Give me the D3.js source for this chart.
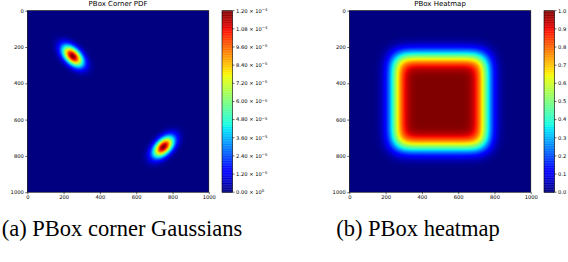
<!DOCTYPE html>
<meta charset="utf-8">
<style>
body {
  margin: 0;
  background: #fff;
}
svg {
  display: block;
}
.tick text, .cb text {
  font-family: "DejaVu Sans", sans-serif;
  font-size: 5.2px;
  fill: #000;
}
.title {
  font-family: "DejaVu Sans", sans-serif;
  font-size: 7px;
  text-anchor: middle;
}
.caption {
  font-family: "Liberation Serif", "Times New Roman", serif;
  font-size: 22.5px;
  text-anchor: middle;
}
</style>
<body>
<script src="https://d3js.org/d3.v7.min.js"></script>
<script>

var width = 568,
    height = 262;

// data
var axisTicks = [0, 200, 400, 600, 800, 1000];
var gaussMeans = [[250, 250], [750, 750]];
var gaussCov = [[1533, 1533, 771], [1533, 1533, -771]];  // varX, varY, covXY
var boxEdges = [250, 750];
var boxSigma = 45;
var cbTicksA = [0, 1.2e-5, 2.4e-5, 3.6e-5, 4.8e-5, 6.0e-5, 7.2e-5, 8.4e-5, 9.6e-5, 1.08e-4, 1.2e-4];
var cbTicksB = [0, 0.1, 0.2, 0.3, 0.4, 0.5, 0.6, 0.7, 0.8, 0.9, 1.0];
var titles = ["PBox Corner PDF", "PBox Heatmap"];
var captions = ["(a) PBox corner Gaussians", "(b) PBox heatmap"];

// matplotlib jet
var jetR = d3.scaleLinear().domain([0, .35, .66, .89, 1]).range([0, 0, 1, 1, .5]).clamp(true);
var jetG = d3.scaleLinear().domain([0, .125, .375, .64, .91, 1]).range([0, 0, 1, 1, 0, 0]).clamp(true);
var jetB = d3.scaleLinear().domain([0, .11, .34, .65, 1]).range([.5, 1, 1, 0, 0]).clamp(true);
function jet(t) {
  t = Math.floor(Math.max(0, Math.min(1, t)) * 255.999) / 255;
  return [jetR(t) * 255, jetG(t) * 255, jetB(t) * 255];
}

function erf(x) {
  var s = x < 0 ? -1 : 1; x = Math.abs(x);
  var t = 1 / (1 + 0.3275911 * x);
  var y = 1 - (((((1.061405429 * t - 1.453152027) * t) + 1.421413741) * t - 0.284496736) * t + 0.254829592) * t * Math.exp(-x * x);
  return s * y;
}
function Phi(z) { return 0.5 * (1 + erf(z / Math.SQRT2)); }

function cornerPdf(x, y) {
  var v = 0;
  gaussMeans.forEach(function(m, k) {
    var c = gaussCov[k], det = c[0] * c[1] - c[2] * c[2];
    var dx = x - m[0], dy = y - m[1];
    var q = (c[1] * dx * dx - 2 * c[2] * dx * dy + c[0] * dy * dy) / det;
    v = Math.max(v, Math.exp(-q / 2) / (2 * Math.PI * Math.sqrt(det)));
  });
  return v;
}
function boxProb(x, y) {
  var px = Phi((x - boxEdges[0]) / boxSigma) - Phi((x - boxEdges[1]) / boxSigma);
  var py = Phi((y - boxEdges[0]) / boxSigma) - Phi((y - boxEdges[1]) / boxSigma);
  return px * py;
}

var svg = d3.select("body").append("svg")
    .attr("width", width)
    .attr("height", height);

var panels = [
  {x0: 27.3, cb: 222, fn: cornerPdf, vmax: 1.2e-4, ticks: cbTicksA, sci: true},
  {x0: 349.3, cb: 544, fn: boxProb, vmax: 1.0, ticks: cbTicksB, sci: false}
];
var y0 = 10.7, size = 181.5;

panels.forEach(function(p, k) {
  var x = d3.scaleLinear().domain([0, 1000]).range([p.x0, p.x0 + size]);
  var y = d3.scaleLinear().domain([0, 1000]).range([y0, y0 + size]);
  var color = d3.scaleLinear().domain([0, p.vmax]).range([0, 1]).clamp(true);

  // heatmap raster
  var n = Math.round(size) * 2;
  var canvas = document.createElement("canvas");
  canvas.width = n; canvas.height = n;
  var ctx = canvas.getContext("2d");
  var img = ctx.createImageData(n, n);
  for (var j = 0; j < n; j++) {
    for (var i = 0; i < n; i++) {
      var dx = x.invert(p.x0 + (i + .5) * size / n),
          dy = y.invert(y0 + (j + .5) * size / n);
      var c = jet(color(p.fn(dx, dy))), o = (j * n + i) * 4;
      img.data[o] = c[0]; img.data[o + 1] = c[1]; img.data[o + 2] = c[2]; img.data[o + 3] = 255;
    }
  }
  ctx.putImageData(img, 0, 0);
  svg.append("image")
      .attr("x", p.x0).attr("y", y0)
      .attr("width", size).attr("height", size)
      .attr("preserveAspectRatio", "none")
      .attr("href", canvas.toDataURL());

  svg.append("rect")
      .attr("x", p.x0).attr("y", y0)
      .attr("width", size).attr("height", size)
      .attr("fill", "none").attr("stroke", "#000").attr("stroke-width", .6);

  svg.append("g")
      .attr("transform", "translate(0," + (y0 + size) + ")")
      .call(d3.axisBottom(x).tickValues(axisTicks).tickFormat(d3.format("d")).tickSize(2).tickPadding(1.5))
      .call(function(g) { g.select(".domain").remove(); })
      .selectAll("line").attr("stroke-width", .6);

  svg.append("g")
      .attr("transform", "translate(" + p.x0 + ",0)")
      .call(d3.axisLeft(y).tickValues(axisTicks).tickFormat(d3.format("d")).tickSize(2).tickPadding(1.5))
      .call(function(g) { g.select(".domain").remove(); })
      .selectAll("line").attr("stroke-width", .6);

  svg.append("text")
      .attr("class", "title")
      .attr("x", p.x0 + size / 2)
      .attr("y", 6.3)
      .text(titles[k]);

  // colorbar
  var cbW = 10.5;
  var cy = d3.scaleLinear().domain([0, p.vmax]).range([y0 + size, y0]);
  var steps = d3.range(256);
  var cs = d3.scaleLinear().domain([0, 256]).range([y0 + size, y0]);
  var cb = svg.append("g").attr("class", "cb");
  cb.selectAll("rect")
    .data(steps)
    .enter().append("rect")
      .attr("x", p.cb)
      .attr("y", function(d) { return cs(d + 1); })
      .attr("width", cbW)
      .attr("height", function(d) { return cs(d) - cs(d + 1) + .3; })
      .attr("fill", function(d) { var c = jet(d / 255); return d3.rgb(c[0], c[1], c[2]); });
  cb.append("rect")
      .attr("x", p.cb).attr("y", y0)
      .attr("width", cbW).attr("height", size)
      .attr("fill", "none").attr("stroke", "#000").attr("stroke-width", .6);

  var t = cb.selectAll(".cbt")
    .data(p.ticks)
    .enter().append("g")
      .attr("class", "cbt")
      .attr("transform", function(d) { return "translate(" + (p.cb + cbW) + "," + cy(d) + ")"; });
  t.append("line").attr("x2", 2).attr("stroke", "#000").attr("stroke-width", .6);
  var tx = t.append("text")
      .attr("x", 3.5)
      .attr("dy", "0.35em");
  if (p.sci) {
    tx.each(function(d) {
      var e = d === 0 ? 0 : Math.floor(Math.log10(d) + 1e-9);
      var m = d / Math.pow(10, e);
      var el = d3.select(this);
      el.append("tspan").text(m.toFixed(2) + " \u00d7 10");
      el.append("tspan").attr("dy", "-0.45em").attr("font-size", "3.8px").text(String(e).replace("-", "\u2212"));
    });
  } else {
    tx.text(d3.format(".1f"));
  }
});

captions.forEach(function(c, k) {
  svg.append("text")
      .attr("class", "caption")
      .attr("x", [122, 418][k])
      .attr("y", 236)
      .text(c);
});

</script>
